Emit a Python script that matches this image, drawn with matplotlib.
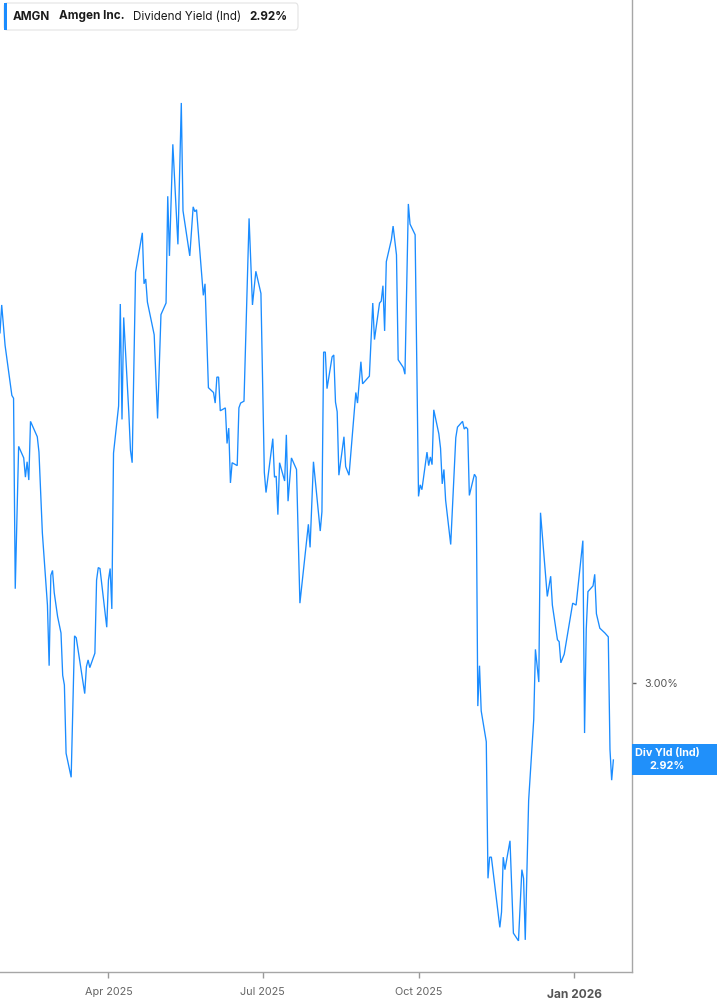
import matplotlib
matplotlib.use("Agg")
import matplotlib.pyplot as plt
import matplotlib.dates as mdates
from matplotlib.patches import FancyBboxPatch, Rectangle
import pandas as pd

plt.rcParams['font.family'] = ['Inter', 'DejaVu Sans']

# ---- data (dividend yield, %) ----
dates = [
    "2025-01-27", "2025-01-28", "2025-01-30", "2025-02-03", "2025-02-04", "2025-02-05", "2025-02-07",
    "2025-02-10", "2025-02-11", "2025-02-12", "2025-02-13", "2025-02-14", "2025-02-18", "2025-02-19",
    "2025-02-21", "2025-02-24", "2025-02-25", "2025-02-26", "2025-02-27", "2025-02-28", "2025-03-02",
    "2025-03-04", "2025-03-05", "2025-03-06", "2025-03-07", "2025-03-10", "2025-03-12", "2025-03-13",
    "2025-03-18", "2025-03-19", "2025-03-20", "2025-03-21", "2025-03-24", "2025-03-25", "2025-03-26",
    "2025-03-27", "2025-03-31", "2025-04-01", "2025-04-02", "2025-04-03", "2025-04-04", "2025-04-07",
    "2025-04-08", "2025-04-09", "2025-04-10", "2025-04-13", "2025-04-14", "2025-04-15", "2025-04-17",
    "2025-04-21", "2025-04-22", "2025-04-23", "2025-04-24", "2025-04-28", "2025-04-30", "2025-05-02",
    "2025-05-05", "2025-05-06", "2025-05-07", "2025-05-09", "2025-05-12", "2025-05-14", "2025-05-15",
    "2025-05-19", "2025-05-21", "2025-05-22", "2025-05-23", "2025-05-27", "2025-05-28", "2025-05-30",
    "2025-06-02", "2025-06-03", "2025-06-04", "2025-06-05", "2025-06-06", "2025-06-09", "2025-06-10",
    "2025-06-11", "2025-06-12", "2025-06-13", "2025-06-16", "2025-06-17", "2025-06-18", "2025-06-20",
    "2025-06-23", "2025-06-25", "2025-06-27", "2025-06-30", "2025-07-02", "2025-07-03", "2025-07-07",
    "2025-07-08", "2025-07-09", "2025-07-10", "2025-07-11", "2025-07-14", "2025-07-15", "2025-07-16",
    "2025-07-18", "2025-07-21", "2025-07-23", "2025-07-28", "2025-07-29", "2025-07-31", "2025-08-04",
    "2025-08-05", "2025-08-06", "2025-08-07", "2025-08-08", "2025-08-11", "2025-08-12", "2025-08-13",
    "2025-08-14", "2025-08-15", "2025-08-18", "2025-08-19", "2025-08-21", "2025-08-25", "2025-08-26",
    "2025-08-28", "2025-08-29", "2025-09-02", "2025-09-04", "2025-09-05", "2025-09-08", "2025-09-09",
    "2025-09-10", "2025-09-11", "2025-09-12", "2025-09-15", "2025-09-16", "2025-09-18", "2025-09-19",
    "2025-09-22", "2025-09-23", "2025-09-25", "2025-09-26", "2025-09-29", "2025-10-01", "2025-10-02",
    "2025-10-03", "2025-10-06", "2025-10-07", "2025-10-08", "2025-10-09", "2025-10-10", "2025-10-13",
    "2025-10-14", "2025-10-15", "2025-10-16", "2025-10-17", "2025-10-20", "2025-10-23", "2025-10-24",
    "2025-10-27", "2025-10-28", "2025-10-29", "2025-10-30", "2025-10-31", "2025-11-03", "2025-11-04",
    "2025-11-05", "2025-11-06", "2025-11-07", "2025-11-10", "2025-11-11", "2025-11-12", "2025-11-13",
    "2025-11-18", "2025-11-19", "2025-11-20", "2025-11-21", "2025-11-24", "2025-11-26", "2025-11-29",
    "2025-12-01", "2025-12-02", "2025-12-03", "2025-12-05", "2025-12-08", "2025-12-09", "2025-12-11",
    "2025-12-12", "2025-12-16", "2025-12-18", "2025-12-19", "2025-12-22", "2025-12-23", "2025-12-24",
    "2025-12-26", "2025-12-31", "2026-01-02", "2026-01-06", "2026-01-07", "2026-01-08", "2026-01-09",
    "2026-01-12", "2026-01-13", "2026-01-14", "2026-01-16", "2026-01-19", "2026-01-21", "2026-01-22",
    "2026-01-23", "2026-01-24",
]
div_yield = [
    3.364, 3.393, 3.351, 3.299, 3.296, 3.098, 3.246,
    3.234, 3.214, 3.230, 3.211, 3.272, 3.256, 3.240,
    3.156, 3.081, 3.018, 3.112, 3.117, 3.094, 3.069,
    3.052, 3.008, 2.998, 2.927, 2.902, 3.049, 3.047,
    2.989, 3.017, 3.024, 3.016, 3.031, 3.107, 3.120,
    3.119, 3.058, 3.107, 3.119, 3.077, 3.239, 3.288,
    3.394, 3.274, 3.380, 3.282, 3.242, 3.229, 3.427,
    3.468, 3.415, 3.420, 3.396, 3.362, 3.275, 3.383,
    3.395, 3.506, 3.444, 3.560, 3.456, 3.603, 3.491,
    3.444, 3.495, 3.490, 3.492, 3.403, 3.415, 3.307,
    3.302, 3.291, 3.318, 3.318, 3.283, 3.286, 3.249,
    3.265, 3.208, 3.229, 3.226, 3.286, 3.291, 3.293,
    3.483, 3.393, 3.428, 3.405, 3.219, 3.198, 3.254,
    3.214, 3.215, 3.175, 3.229, 3.210, 3.258, 3.189,
    3.234, 3.222, 3.083, 3.165, 3.141, 3.230, 3.158,
    3.178, 3.344, 3.344, 3.306, 3.339, 3.341, 3.292,
    3.282, 3.216, 3.256, 3.225, 3.216, 3.302, 3.291,
    3.334, 3.311, 3.319, 3.395, 3.357, 3.395, 3.397,
    3.413, 3.366, 3.438, 3.461, 3.475, 3.445, 3.336,
    3.328, 3.321, 3.498, 3.477, 3.466, 3.194, 3.206,
    3.201, 3.240, 3.226, 3.235, 3.227, 3.284, 3.259,
    3.244, 3.207, 3.222, 3.190, 3.144, 3.255, 3.266,
    3.272, 3.264, 3.266, 3.264, 3.195, 3.217, 3.214,
    2.976, 3.018, 2.971, 2.939, 2.797, 2.819, 2.819,
    2.746, 2.762, 2.819, 2.806, 2.836, 2.740, 2.732,
    2.806, 2.797, 2.733, 2.878, 2.962, 3.035, 3.001,
    3.177, 3.090, 3.111, 3.081, 3.045, 3.043, 3.021,
    3.030, 3.083, 3.081, 3.148, 2.948, 3.056, 3.095,
    3.101, 3.113, 3.072, 3.057, 3.052, 3.048, 2.931,
    2.899, 2.920,
]
x_ticks = ["2025-04-01", "2025-07-01", "2025-10-01", "2026-01-01"]
x_tick_labels = ["Apr 2025", "Jul 2025", "Oct 2025", "Jan 2026"]
y_ticks = [3.00]
ticker = "AMGN"
company = "Amgen Inc."
metric = "Dividend Yield (Ind)"
last_label = "2.92%"

LINE = "#1a8cff"
W, H = 717, 1005

dt = pd.to_datetime(dates)
fig = plt.figure(figsize=(W / 100, H / 100), dpi=100)
ax = fig.add_axes([0, (H - 972) / H, 632 / W, 972 / H])
ax.plot(dt, div_yield, color=LINE, lw=0.95, solid_joinstyle="miter")

ax.set_xlim(pd.Timestamp("2025-01-27"), pd.Timestamp("2026-02-04"))
ax.set_ylim(2.6996, 3.710)

for s in ["top", "left"]:
    ax.spines[s].set_visible(False)
for s in ["right", "bottom"]:
    ax.spines[s].set_color("#a6a6a6")
    ax.spines[s].set_linewidth(1.0)

ax.yaxis.tick_right()
ax.set_yticks(y_ticks)
ax.set_yticklabels([f"{v:.2f}%" for v in y_ticks])
ax.tick_params(axis="y", length=3, width=1, color="#666666", pad=6,
               labelsize=7.8, labelcolor="#555555", direction="out")

ax.set_xticks(pd.to_datetime(x_ticks))
ax.set_xticklabels(x_tick_labels)
ax.tick_params(axis="x", length=4, width=1, color="#999999", pad=7,
               labelsize=7.8, labelcolor="#666666")
for lbl in ax.get_xticklabels():
    if lbl.get_text().startswith("Jan"):
        lbl.set_fontweight("bold")
        lbl.set_color("#555555")
        lbl.set_fontsize(8.6)
        lbl.set_y(-0.002)

# last value box on right axis
fig.canvas.draw()
_, ypix = ax.transData.transform((mdates.date2num(dt[-1]), div_yield[-1]))
box_h = 31
fig.patches.append(Rectangle((632 / W, (ypix - box_h / 2) / H), (W - 632) / W, box_h / H,
                             transform=fig.transFigure, facecolor="#2090fa",
                             edgecolor="none", zorder=5))
fig.text(667 / W, (ypix + 7) / H, "Div Yld (Ind)", color="white", fontsize=7.8,
         fontweight="bold", ha="center", va="center", zorder=6)
fig.text(667 / W, (ypix - 6) / H, last_label, color="white", fontsize=7.8,
         fontweight="bold", ha="center", va="center", zorder=6)

# legend box top-left
fig.patches.append(FancyBboxPatch((4 / W, (H - 30) / H), 294 / W, 27 / H,
                                  boxstyle="round,pad=0,rounding_size=0.004",
                                  transform=fig.transFigure, facecolor="white",
                                  edgecolor="#e3e3e3", lw=0.8, zorder=5))
fig.patches.append(Rectangle((4 / W, (H - 30) / H), 3 / W, 27 / H,
                             transform=fig.transFigure, facecolor=LINE,
                             edgecolor="none", zorder=6))
ty = (H - 16.5) / H
fig.text(13 / W, ty, ticker, fontsize=8.4, fontweight="bold", color="#1a1a1a",
         va="center", ha="left", zorder=7)
fig.text(59 / W, ty, company, fontsize=8.4, fontweight="bold", color="#1a1a1a",
         va="center", ha="left", zorder=7)
fig.text(133 / W, ty, metric, fontsize=8.4, color="#1a1a1a",
         va="center", ha="left", zorder=7)
fig.text(249 / W, ty, last_label, fontsize=8.4, fontweight="bold", color="#1a1a1a",
         va="center", ha="left", zorder=7)

fig.savefig("out.png", dpi=100)
